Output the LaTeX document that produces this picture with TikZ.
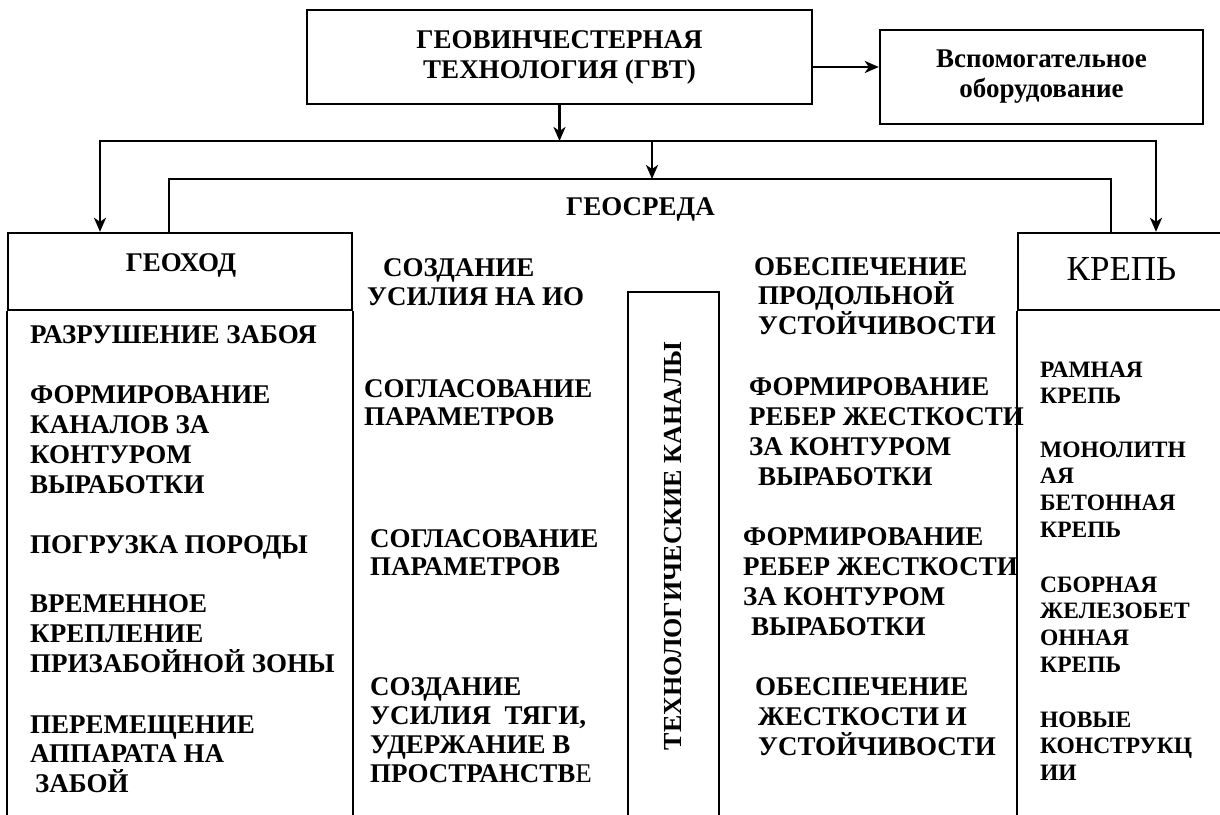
\documentclass[tikz,border=0pt]{standalone}
\usepackage{fontspec}
\setmainfont{LiberationSerif}[Extension=.ttf, UprightFont=*-Regular, BoldFont=*-Bold,
    ItalicFont=*-Italic, BoldItalicFont=*-BoldItalic]
\usetikzlibrary{arrows.meta,positioning}

% one text line per node, baselines dy apart
\newcommand{\rowlines}[6]{%
  \foreach \lbl [count=\k] in {#6} {
    \node[#1, anchor=base west] (#2-\k) at (#3,{#4+#5*(\k-1)}) {\lbl};
  }}

\begin{document}
\begin{tikzpicture}[x=1pt, y=-1pt,
    box/.style={draw, line width=2.4pt, inner sep=0pt},
    wire/.style={line width=2.4pt},
    arr/.style={line width=2.4pt, -{Stealth[length=14pt, width=12pt, inset=4pt]}},
    lbl/.style={inner sep=0pt, font=\fontsize{27}{30}\selectfont\bfseries},
    klbl/.style={inner sep=0pt, font=\fontsize{23.5}{26.7}\selectfont\bfseries}]
    \useasboundingbox (0,0) rectangle (1220,814);

    % Top boxes
    \node[box, lbl, align=center, minimum width=505pt, minimum height=94pt] (gvt) at (559.5,57)
        {ГЕОВИНЧЕСТЕРНАЯ\\ТЕХНОЛОГИЯ (ГВТ)};
    \node[box, align=center, minimum width=323pt, minimum height=94pt,
          font=\fontsize{27}{30}\selectfont\bfseries] (vsp) at (1041.5,77)
        {Вспомогательное\\оборудование};
    \draw[arr] ([yshift=-10pt]gvt.east) -- ([yshift=-10pt]gvt.east -| vsp.west);

    % Column headers
    \node[box, minimum width=344pt, minimum height=77pt] (geo) at (180,271.5) {};
    \node[box, minimum width=212pt, minimum height=77pt] (krep) at (1124,271.5) {};
    \node[lbl, anchor=base] (geoname) at (181,271) {ГЕОХОД};
    \node[inner sep=0pt, anchor=base, font=\fontsize{35}{40}\selectfont] (krepname) at (1121.5,280) {КРЕПЬ};

    % Columns (open at the bottom)
    \draw[wire] (geo.south west) -- +(0,520) (geo.south east) -- +(0,520);
    \draw[wire] (krep.south west) -- +(0,520);
    \draw[wire] (628,830) |- (719,292) -- (719,830);
    \node[lbl, rotate=90, font=\fontsize{26}{30}\selectfont\bfseries] (tech) at (673.5,546) {ТЕХНОЛОГИЧЕСКИЕ КАНАЛЫ};

    % Distribution lines
    \coordinate (busM) at (gvt.south |- 0,141);
    \coordinate (busL) at (100,141);
    \coordinate (busR) at (1156,141);
    \coordinate (envM) at (652,141);
    \coordinate (envL) at (169,179);
    \coordinate (envR) at (1111,179);
    \draw[arr] (gvt.south) -- (busM);
    \draw[arr] (busM) -- (busL) -- (busL |- geo.north);
    \draw[arr] (busM) -- (busR) -- (busR |- krep.north);
    \draw[arr] (envM) -- (envM |- envL);
    \draw[wire] (envL |- geo.north) -- (envL) -- (envR) -- (envR |- krep.north);
    \node[lbl, anchor=base] (env) at (640.5,215) {ГЕОСРЕДА};

    % Geokhod functions
    \rowlines{lbl}{g1}{30}{343}{30}{РАЗРУШЕНИЕ ЗАБОЯ}
    \rowlines{lbl}{g2}{30}{403}{30}{ФОРМИРОВАНИЕ, КАНАЛОВ ЗА, КОНТУРОМ, ВЫРАБОТКИ}
    \rowlines{lbl}{g3}{30}{553}{30}{ПОГРУЗКА ПОРОДЫ}
    \rowlines{lbl}{g4}{30}{612}{30}{ВРЕМЕННОЕ, КРЕПЛЕНИЕ, ПРИЗАБОЙНОЙ ЗОНЫ}
    \rowlines{lbl}{g5}{30}{733}{29.5}{ПЕРЕМЕЩЕНИЕ, АППАРАТА НА, \hspace{5pt}ЗАБОЙ}

    % Geosreda, left half
    \rowlines{lbl}{m1}{367}{276}{29.5}{\hspace{16pt}СОЗДАНИЕ, УСИЛИЯ НА ИО}
    \rowlines{lbl}{m2}{364}{397}{28.5}{СОГЛАСОВАНИЕ, ПАРАМЕТРОВ}
    \rowlines{lbl}{m3}{370}{547}{28.5}{СОГЛАСОВАНИЕ, ПАРАМЕТРОВ}
    \rowlines{lbl}{m4}{370}{695}{29.3}{СОЗДАНИЕ, {УСИЛИЯ\ \ ТЯГИ,}, УДЕРЖАНИЕ В, ПРОСТРАНСТВ{\mdseries Е}}

    % Geosreda, right half
    \rowlines{lbl}{n1}{754}{275}{29.5}{ОБЕСПЕЧЕНИЕ, \hspace{4pt}ПРОДОЛЬНОЙ, \hspace{4pt}УСТОЙЧИВОСТИ}
    \rowlines{lbl}{n2}{749}{395}{30}{ФОРМИРОВАНИЕ, РЕБЕР ЖЕСТКОСТИ, ЗА КОНТУРОМ, \hspace{9pt}ВЫРАБОТКИ}
    \rowlines{lbl}{n3}{743}{545}{30}{ФОРМИРОВАНИЕ, РЕБЕР ЖЕСТКОСТИ, ЗА КОНТУРОМ, \hspace{8pt}ВЫРАБОТКИ}
    \rowlines{lbl}{n4}{755}{695}{30}{ОБЕСПЕЧЕНИЕ, \hspace{3pt}ЖЕСТКОСТИ И, \hspace{3pt}УСТОЙЧИВОСТИ}

    % Krep types
    \rowlines{klbl}{k1}{1040}{377}{26.7}{РАМНАЯ, КРЕПЬ}
    \rowlines{klbl}{k2}{1040}{457}{26.7}{МОНОЛИТН, АЯ, БЕТОННАЯ, КРЕПЬ}
    \rowlines{klbl}{k3}{1040}{592}{26.7}{СБОРНАЯ, ЖЕЛЕЗОБЕТ, ОННАЯ, КРЕПЬ}
    \rowlines{klbl}{k4}{1040}{727}{26.7}{НОВЫЕ, КОНСТРУКЦ, ИИ}
\end{tikzpicture}
\end{document}
